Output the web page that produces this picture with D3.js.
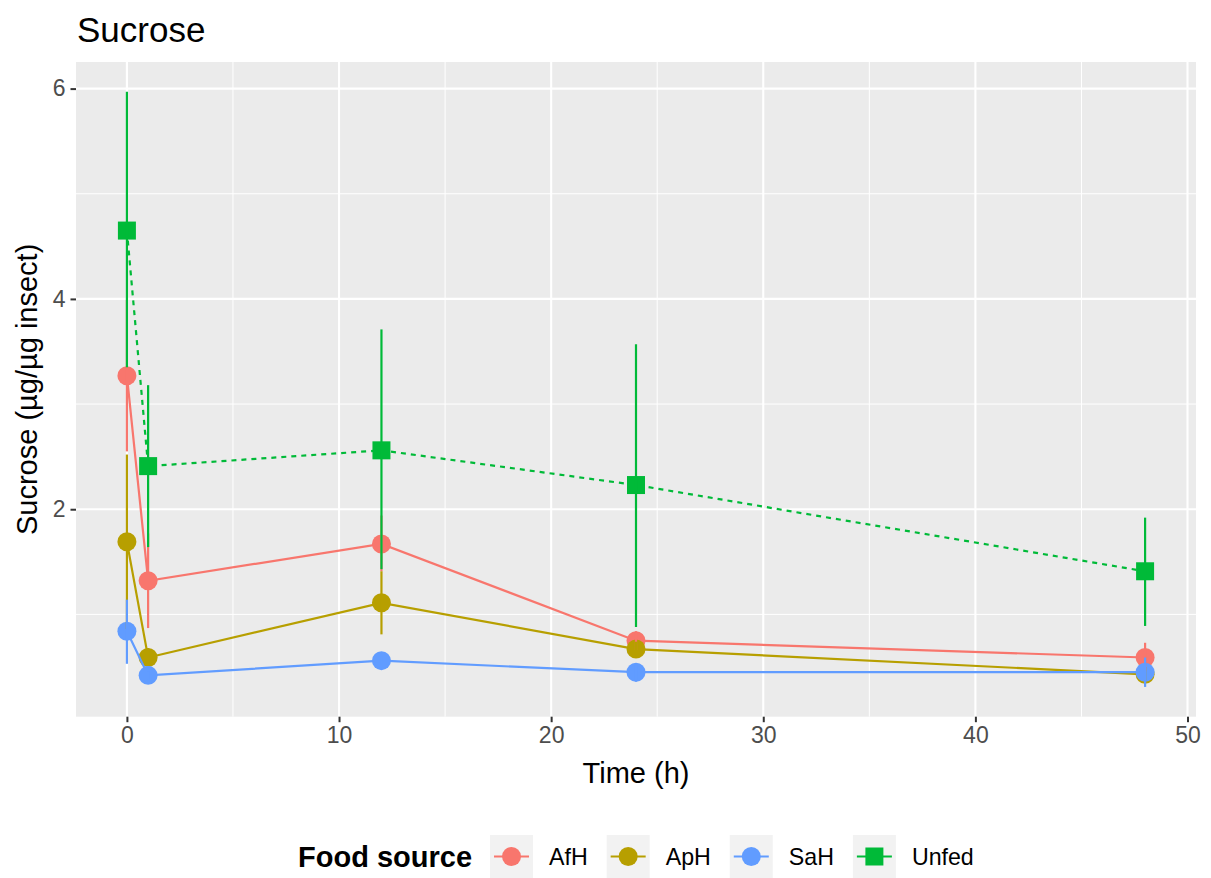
<!DOCTYPE html>
<html>
<head>
<meta charset="utf-8">
<script src="https://cdn.jsdelivr.net/npm/d3@7"></script>
<style>
  body { margin: 0; background: #fff; }
  text { font-family: "Liberation Sans", Arial, sans-serif; }
</style>
</head>
<body>
<svg id="chart" width="1211" height="878"></svg>
<script>
// data
var groups = ["AfH", "ApH", "SaH", "Unfed"];
var colors = ["#F8766D", "#B79F00", "#619CFF", "#00BA38"];
var times = [0, 1, 12, 24, 48];

var afhMean = [3.27, 1.32, 1.67, 0.75, 0.59];
var afhLow  = [2.55, 0.87, 1.41, 0.66, 0.46];
var afhHigh = [3.99, 1.77, 1.94, 0.84, 0.73];

var aphMean = [1.69, 0.59, 1.11, 0.67, 0.43];
var aphLow  = [0.86, 0.51, 0.81, 0.60, 0.37];
var aphHigh = [2.52, 0.68, 1.41, 0.74, 0.50];

var sahMean = [0.84, 0.42, 0.56, 0.45, 0.45];
var sahLow  = [0.53, 0.38, 0.52, 0.36, 0.31];
var sahHigh = [1.14, 0.46, 0.60, 0.52, 0.59];

var unfedMean = [4.65, 2.41, 2.56, 2.23, 1.41];
var unfedLow  = [3.35, 1.64, 1.43, 0.88, 0.89];
var unfedHigh = [5.97, 3.18, 3.71, 3.57, 1.92];

var xTicks = [0, 10, 20, 30, 40, 50];
var yTicks = [2, 4, 6];

var means = [afhMean, aphMean, sahMean, unfedMean];
var lows = [afhLow, aphLow, sahLow, unfedLow];
var highs = [afhHigh, aphHigh, sahHigh, unfedHigh];

var series = groups.map(function(g, i) {
  return {
    name: g,
    color: colors[i],
    values: times.map(function(t, j) {
      return {t: t, y: means[i][j], lo: lows[i][j], hi: highs[i][j]};
    })
  };
});

var pLeft = 76, pRight = 1196, pTop = 62, pBottom = 716.7;

var allLo = d3.min(lows, function(a) { return d3.min(a); });
var allHi = d3.max(highs, function(a) { return d3.max(a); });
var yPad = (allHi - allLo) * 0.05;
var xPad = (d3.max(times) - d3.min(times)) * 0.05;

var x = d3.scaleLinear()
    .domain([d3.min(times) - xPad, d3.max(times) + xPad])
    .range([pLeft, pRight]);

var y = d3.scaleLinear()
    .domain([allLo - yPad, allHi + yPad])
    .range([pBottom, pTop]);

var svg = d3.select("#chart");

svg.append("rect")
    .attr("x", pLeft).attr("y", pTop)
    .attr("width", pRight - pLeft).attr("height", pBottom - pTop)
    .attr("fill", "#EBEBEB");

// minor grid
var xMinor = [-5, 5, 15, 25, 35, 45];
var yMinor = [1, 3, 5];
svg.selectAll(".xminor").data(xMinor.filter(function(d) { return d > x.domain()[0]; }))
  .enter().append("line")
    .attr("x1", x).attr("x2", x).attr("y1", pTop).attr("y2", pBottom)
    .attr("stroke", "#fff").attr("stroke-width", 1);
svg.selectAll(".yminor").data(yMinor)
  .enter().append("line")
    .attr("x1", pLeft).attr("x2", pRight).attr("y1", y).attr("y2", y)
    .attr("stroke", "#fff").attr("stroke-width", 1);

// major grid
svg.selectAll(".xmajor").data(xTicks)
  .enter().append("line")
    .attr("x1", x).attr("x2", x).attr("y1", pTop).attr("y2", pBottom)
    .attr("stroke", "#fff").attr("stroke-width", 2.1);
svg.selectAll(".ymajor").data(yTicks)
  .enter().append("line")
    .attr("x1", pLeft).attr("x2", pRight).attr("y1", y).attr("y2", y)
    .attr("stroke", "#fff").attr("stroke-width", 2.1);

// axes
var xAxis = svg.append("g")
    .attr("transform", "translate(0," + pBottom + ")")
    .call(d3.axisBottom(x).tickValues(xTicks).tickFormat(d3.format("d")).tickSize(5.5).tickPadding(4));
var yAxis = svg.append("g")
    .attr("transform", "translate(" + pLeft + ",0)")
    .call(d3.axisLeft(y).tickValues(yTicks).tickFormat(d3.format("d")).tickSize(5.5).tickPadding(5));
[xAxis, yAxis].forEach(function(a) {
  a.select(".domain").remove();
  a.selectAll(".tick line").attr("stroke", "#333333").attr("stroke-width", 2);
  a.selectAll(".tick text")
      .attr("fill", "#4D4D4D")
      .style("font-size", "23px")
      .style("font-family", "'Liberation Sans', Arial, sans-serif");
});

var line = d3.line()
    .x(function(d) { return x(d.t); })
    .y(function(d) { return y(d.y); });

var sg = svg.selectAll(".series")
    .data(series)
  .enter().append("g")
    .attr("class", "series");

sg.append("path")
    .attr("d", function(d) { return line(d.values); })
    .attr("fill", "none")
    .attr("stroke", function(d) { return d.color; })
    .attr("stroke-width", 2.2)
    .attr("stroke-dasharray", function(d) { return d.name === "Unfed" ? "5,5" : null; });

function drawMarker(sel, name, color, cx, cy) {
  if (name === "Unfed") {
    sel.append("rect")
        .attr("x", cx - 9).attr("y", cy - 9)
        .attr("width", 18).attr("height", 18)
        .attr("fill", color);
  } else {
    sel.append("circle")
        .attr("cx", cx).attr("cy", cy).attr("r", 9.5)
        .attr("fill", color);
  }
}

sg.each(function(s) {
  var g = d3.select(this);
  s.values.forEach(function(v) {
    drawMarker(g, s.name, s.color, x(v.t), y(v.y));
  });
});

// error bars on top
series.forEach(function(s) {
  svg.selectAll(null)
      .data(s.values)
    .enter().append("line")
      .attr("x1", function(d) { return x(d.t); })
      .attr("x2", function(d) { return x(d.t); })
      .attr("y1", function(d) { return y(d.lo); })
      .attr("y2", function(d) { return y(d.hi); })
      .attr("stroke", s.color)
      .attr("stroke-width", 2.2);
});

// titles
svg.append("text")
    .attr("x", 77).attr("y", 42)
    .style("font-size", "35px")
    .text("Sucrose");

svg.append("text")
    .attr("x", (pLeft + pRight) / 2).attr("y", 783)
    .attr("text-anchor", "middle")
    .style("font-size", "29px")
    .text("Time (h)");

svg.append("text")
    .attr("transform", "translate(37," + ((pTop + pBottom) / 2) + ") rotate(-90)")
    .attr("text-anchor", "middle")
    .style("font-size", "29px")
    .text("Sucrose (µg/µg insect)");

// legend
var legend = svg.append("g");
var lt = legend.append("text")
    .attr("x", 298).attr("y", 866.5)
    .style("font-size", "29px")
    .style("font-weight", "bold")
    .text("Food source");
var lx = 298 + lt.node().getComputedTextLength() + 18;
series.forEach(function(s) {
  var key = legend.append("g");
  key.append("rect")
      .attr("x", lx).attr("y", 835)
      .attr("width", 43).attr("height", 43)
      .attr("fill", "#F2F2F2");
  key.append("line")
      .attr("x1", lx + 4).attr("x2", lx + 39)
      .attr("y1", 856.5).attr("y2", 856.5)
      .attr("stroke", s.color).attr("stroke-width", 2.2);
  drawMarker(key, s.name, s.color, lx + 21.5, 856.5);
  var t = key.append("text")
      .attr("x", lx + 43 + 16).attr("y", 865)
      .style("font-size", "23.2px")
      .text(s.name);
  lx += 43 + 16 + t.node().getComputedTextLength() + 19;
});
</script>
</body>
</html>
